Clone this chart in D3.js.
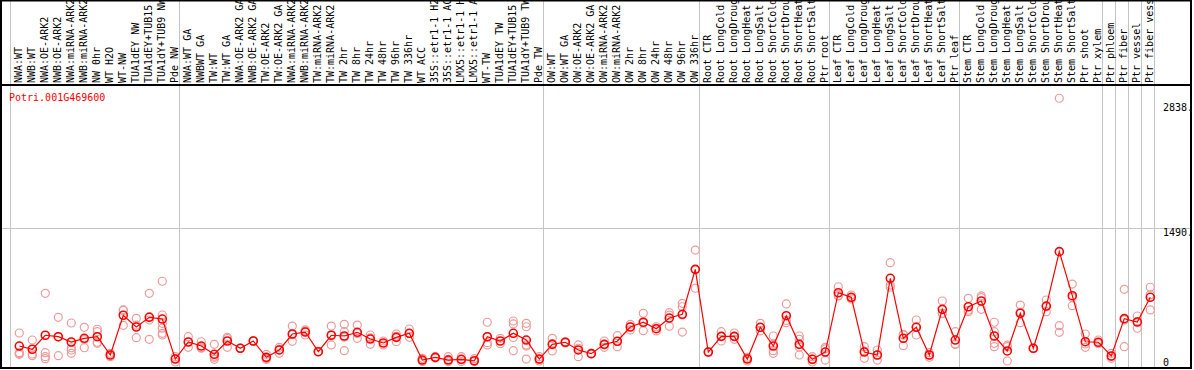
<!DOCTYPE html>
<html>
<head>
<meta charset="utf-8">
<script src="https://cdn.jsdelivr.net/npm/d3@7"></script>
<style>
  body { margin: 0; background: #fff; }
  svg { display: block; }
  text { font-family: "DejaVu Sans Mono", "Liberation Mono", monospace; font-size: 10px; }
</style>
</head>
<body>
<svg id="chart"></svg>
<script>
// Gene shown
const geneId = "Potri.001G469600";

// Sample names, left to right
const samples = [
  "NWA:WT", "NWB:WT", "NWA:OE-ARK2", "NWB:OE-ARK2", "NWA:miRNA-ARK2", "NWB:miRNA-ARK2",
  "NW 0hr", "WT H2O", "WT-NW", "TUA1dEY NW", "TUA1dEY+TUB15 NW", "TUA1dY+TUB9 NW", "Pde NW",
  "NWA:WT GA", "NWBWT GA", "TW:WT", "TW:WT GA", "NWA:OE-ARK2 GA", "NWB:OE-ARK2 GA",
  "TW:OE-ARK2", "TW:OE-ARK2 GA", "NWA:miRNA-ARK2 GA", "NWB:miRNA-ARK2 GA", "TW:miRNA-ARK2",
  "TW:miRNA-ARK2 GA", "TW 2hr", "TW 8hr", "TW 24hr", "TW 48hr", "TW 96hr", "TW 336hr", "WT ACC",
  "35S::etr1-1 H2O", "35S::etr1-1 ACC", "LMX5::etr1-1 H2O", "LMX5::etr1-1 ACC", "WT-TW",
  "TUA1dEY TW", "TUA1dEY+TUB15 TW", "TUA1dY+TUB9 TW", "Pde TW",
  "OW:WT", "OW:WT GA", "OW:OE-ARK2", "OW:OE-ARK2 GA", "OW:miRNA-ARK2", "OW:miRNA-ARK2 GA",
  "OW 2hr", "OW 8hr", "OW 24hr", "OW 48hr", "OW 96hr", "OW 336hr",
  "Root CTR", "Root LongCold", "Root LongDrought", "Root LongHeat", "Root LongSalt",
  "Root ShortCold", "Root ShortDrought", "Root ShortHeat", "Root ShortSalt", "Ptr root",
  "Leaf CTR", "Leaf LongCold", "Leaf LongDrought", "Leaf LongHeat", "Leaf LongSalt",
  "Leaf ShortCold", "Leaf ShortDrought", "Leaf ShortHeat", "Leaf ShortSalt", "Ptr leaf",
  "Stem CTR", "Stem LongCold", "Stem LongDrought", "Stem LongHeat", "Stem LongSalt",
  "Stem ShortCold", "Stem ShortDrought", "Stem ShortHeat", "Stem ShortSalt", "Ptr shoot", "Ptr xylem",
  "Ptr phloem", "Ptr fiber", "Ptr vessel", "Ptr fiber vessel"
];

// First sample of each group (a separator is drawn before it)
const groupStarts = [0, 13, 41, 53, 63, 73, 84, 85, 86, 87];

// Mean expression per sample
const means = [
  178, 142, 298, 282, 223, 264, 282, 78, 521, 390, 498, 479, 33,
  223, 178, 86, 234, 153, 234, 52, 134, 312, 334, 115, 298, 290, 331, 256, 212, 275, 320,
  22, 52, 22, 30, 14, 282, 234, 320, 245, 33,
  197, 220, 134, 93, 197, 231, 390, 443, 371, 490, 532, 1033,
  111, 286, 286, 33, 387, 178, 516, 197, 30, 111,
  772, 721, 111, 78, 933, 264, 387, 78, 587, 245,
  616, 680, 290, 123, 543, 153, 624, 1230, 739, 226, 220,
  67, 483, 446, 721
];

// Replicate values per sample
const replicates = [
  [323, 104, 86, 95], [245, 89, 70], [766, 104, 59, 37], [498, 70, 280], [435, 159, 134, 97],
  [387, 159, 250], [365, 338, 208, 220], [97, 59, 78], [580, 409, 575], [487, 271, 410],
  [766, 468, 253, 505], [900, 524, 431, 376, 320, 301], [59, 0, 40],
  [282, 164, 223], [226, 153, 160], [197, 30, 52, 64], [275, 164, 262], [152, 155],
  [230, 238], [86, 30, 40], [164, 97, 140], [401, 231, 305], [357, 301, 345], [112, 118],
  [401, 190, 303], [420, 338, 126, 276], [412, 264, 318], [301, 197, 270], [234, 190],
  [312, 226, 287], [368, 275, 317], [41, 5, 20], [59, 45], [59, 5, 30], [59, 5, 26],
  [37, 5], [443, 215, 190, 280], [264, 204], [457, 424, 126, 273], [431, 393, 190, 33, 178],
  [59, 11, 30],
  [264, 123, 204], [226, 212], [190, 59, 153], [90, 96], [234, 164, 193], [293, 171, 229],
  [420, 357, 393], [543, 349, 437], [393, 346, 374], [550, 398, 522], [654, 616, 334, 524],
  [1248, 822, 1030],
  [109, 114], [338, 234, 286], [253, 323, 282], [52, 11, 36], [431, 346, 384],
  [290, 126, 97, 199], [647, 438, 463], [290, 253, 78, 167], [59, 0, 31], [164, 22, 147],
  [839, 736, 741], [747, 702, 714], [171, 41, 121], [134, 22, 78], [1107, 858, 834],
  [301, 182, 309], [468, 301, 392], [104, 52, 78], [680, 543, 538], [338, 201, 196],
  [710, 561, 577], [736, 587, 717], [443, 208, 171, 338], [171, 11, 187], [635, 438, 556],
  [150, 156], [691, 561, 620], [2940, 405, 331], [869, 628, 720], [312, 164, 202], [245, 205],
  [97, 41, 63], [810, 171, 468], [513, 376, 449], [833, 580, 750]
];

// Right-hand scale labels and grid line
const yTicks = [0, 1490, 2838];
const gridValues = [1490];

const width = 1194;
const height = 370;
const headerBottom = 85;
const frameBottom = 368;
const frameRight = 1191;

const svg = d3.select("#chart")
  .attr("width", width)
  .attr("height", height);

// Scales
const x = d3.scaleBand()
  .domain(d3.range(samples.length))
  .range([11, 1155])
  .padding(0);

const cx = i => x(i) + 8.3;

const y = d3.scaleLinear()
  .domain([0, 2838])
  .range([362, 107.4]);

// Grid line
svg.selectAll(".grid")
  .data(gridValues)
  .enter()
  .append("line")
  .attr("class", "grid")
  .attr("x1", 2)
  .attr("x2", frameRight)
  .attr("y1", d => Math.round(y(d)) + 0.5)
  .attr("y2", d => Math.round(y(d)) + 0.5)
  .attr("stroke", "#c4c4c4")
  .attr("stroke-width", 1);

// Group separators
const sepX = groupStarts.map(i => x(i)).concat([x.range()[1]]);
svg.selectAll(".sep")
  .data(sepX)
  .enter()
  .append("line")
  .attr("class", "sep")
  .attr("x1", d => Math.round(d) - 0.5)
  .attr("x2", d => Math.round(d) - 0.5)
  .attr("y1", 0)
  .attr("y2", frameBottom)
  .attr("stroke", "#c4c4c4")
  .attr("stroke-width", 1);

// Sample labels, rotated
svg.append("g")
  .selectAll("text")
  .data(samples)
  .enter()
  .append("text")
  .attr("transform", (d, i) => "translate(" + (cx(i) + 2.5) + "," + (headerBottom - 2) + ") rotate(-90)")
  .attr("fill", "#000")
  .text(d => d);

// Frame
svg.append("rect")
  .attr("x", 1)
  .attr("y", 0.5)
  .attr("width", frameRight - 1)
  .attr("height", frameBottom - 0.5)
  .attr("fill", "none")
  .attr("stroke", "#000")
  .attr("stroke-width", 2);

svg.append("line")
  .attr("x1", 1)
  .attr("x2", frameRight)
  .attr("y1", headerBottom)
  .attr("y2", headerBottom)
  .attr("stroke", "#000")
  .attr("stroke-width", 2);

// Gene id
svg.append("text")
  .attr("x", 9)
  .attr("y", 101)
  .attr("fill", "#ff0000")
  .text(geneId);

// Right axis labels
const yAxis = d3.axisRight(y)
  .tickValues(yTicks)
  .tickSize(0)
  .tickPadding(6)
  .tickFormat(d => d === 0 ? "0" : d + ".");

const axisG = svg.append("g")
  .attr("transform", "translate(1157,0)")
  .call(yAxis);
axisG.select(".domain").remove();
axisG.selectAll("text")
  .attr("font-family", "DejaVu Sans Mono, monospace")
  .attr("font-size", 10)
  .attr("fill", "#000")
  .attr("dy", d => gridValues.includes(d) ? "0.68em" : "0.32em");

// Replicate circles
const repPoints = [];
replicates.forEach((vals, i) => vals.forEach(v => repPoints.push({ i: i, v: v })));

svg.append("g")
  .selectAll("circle")
  .data(repPoints)
  .enter()
  .append("circle")
  .attr("cx", d => cx(d.i))
  .attr("cy", d => y(d.v))
  .attr("r", 4)
  .attr("fill", "none")
  .attr("stroke", "#ee9a9a")
  .attr("stroke-width", 1.2);

// Mean line
const line = d3.line()
  .x((d, i) => cx(i))
  .y(d => y(d));

svg.append("path")
  .datum(means)
  .attr("d", line)
  .attr("fill", "none")
  .attr("stroke", "#ff0000")
  .attr("stroke-width", 1.2);

// Mean points
svg.append("g")
  .selectAll("circle")
  .data(means)
  .enter()
  .append("circle")
  .attr("cx", (d, i) => cx(i))
  .attr("cy", d => y(d))
  .attr("r", 4)
  .attr("fill", "none")
  .attr("stroke", "#ff0000")
  .attr("stroke-width", 1.6);
</script>
</body>
</html>
